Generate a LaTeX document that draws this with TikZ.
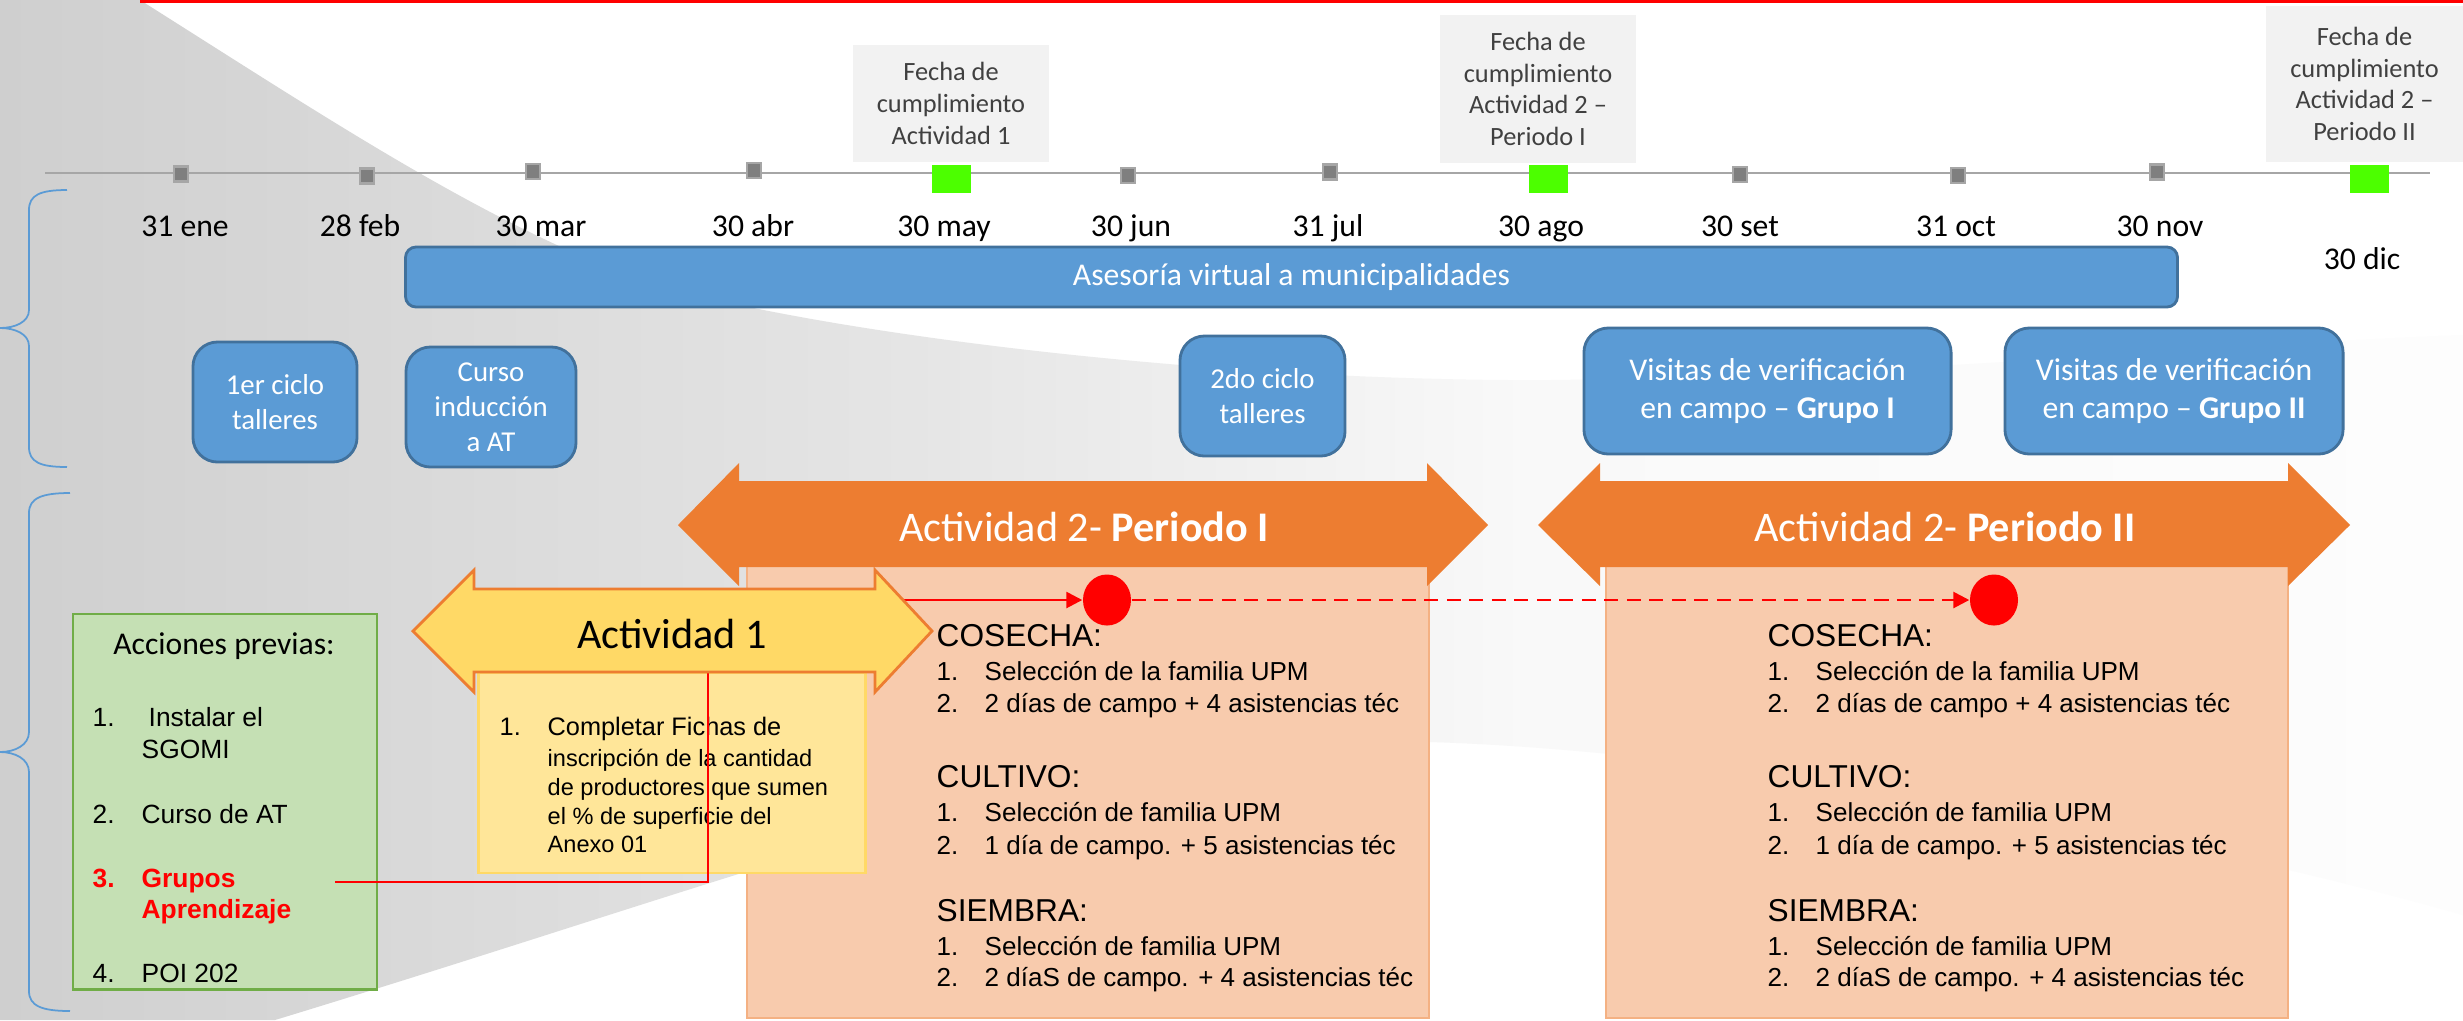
\documentclass[tikz,border=0pt]{standalone}
\usepackage{fontspec}
\setmainfont{Carlito}
\newfontfamily\arialf{Liberation Sans}
\usetikzlibrary{arrows.meta,shapes.geometric}
\definecolor{bluef}{HTML}{5B9BD5}
\definecolor{blueb}{HTML}{41719C}
\definecolor{orangef}{HTML}{ED7D31}
\definecolor{peach}{HTML}{F8CBAD}
\definecolor{peachb}{HTML}{F4B183}
\definecolor{yellowf}{HTML}{FFD966}
\definecolor{yellowbox}{HTML}{FFE699}
\definecolor{greenf}{HTML}{C5E0B4}
\definecolor{greenb}{HTML}{70AD47}
\definecolor{fechabg}{HTML}{F2F2F2}
\definecolor{fechatxt}{HTML}{404040}
\definecolor{brightgreen}{HTML}{4CFF00}
\definecolor{markf}{HTML}{7F7F7F}
\definecolor{markb}{HTML}{A6A6A6}
\definecolor{pureRed}{HTML}{FF0000}
\definecolor{sw0}{HTML}{CFCFCF}
\definecolor{sw1}{HTML}{D8D8D8}
\definecolor{sw2}{HTML}{E5E5E5}
\definecolor{sw3}{HTML}{EFEFEF}
\definecolor{sw4}{HTML}{F9F9F9}
\definecolor{sw5}{HTML}{FDFDFD}
\pgfdeclarehorizontalshading{swoosh}{100bp}{color(0bp)=(sw0); color(25bp)=(sw0); color(32.5bp)=(sw1); color(43.5bp)=(sw2); color(50bp)=(sw3); color(56bp)=(sw4); color(75bp)=(sw5); color(100bp)=(sw5)}

\newcommand{\actpanel}[3]{%
  \node[phead] (#3a) at (#1,646) {COSECHA:};
  \node[pitem] (#3b) at (#1,680) {1.};
  \node[pitem] (#3c) at (#2,680) {Selección de la familia UPM};
  \node[pitem] (#3d) at (#1,712) {2.};
  \node[pitem] (#3e) at (#2,712) {2 días de campo + 4 asistencias téc};
  \node[phead] (#3f) at (#1,787) {CULTIVO:};
  \node[pitem] (#3g) at (#1,821) {1.};
  \node[pitem] (#3h) at (#2,821) {Selección de familia UPM};
  \node[pitem] (#3i) at (#1,854) {2.};
  \node[pitem] (#3j) at (#2,854) {1 día de campo. + 5 asistencias téc};
  \node[phead] (#3k) at (#1,921) {SIEMBRA:};
  \node[pitem] (#3l) at (#1,955) {1.};
  \node[pitem] (#3m) at (#2,955) {Selección de familia UPM};
  \node[pitem] (#3n) at (#1,986) {2.};
  \node[pitem] (#3o) at (#2,986) {2 díaS de campo. + 4 asistencias téc};
}

\begin{document}
\begin{tikzpicture}[x=0.01cm,y=-0.01cm,
  datelbl/.style={font=\fontsize{9}{11}\selectfont, anchor=base, inner sep=0pt},
  fechabox/.style={fill=fechabg, text=fechatxt, align=center, inner sep=0pt, font=\fontsize{7.5}{9}\selectfont},
  marker/.style={fill=markf, draw=markb, line width=0.6pt, minimum width=0.14cm, minimum height=0.15cm, inner sep=0pt},
  greensq/.style={fill=brightgreen, minimum width=0.39cm, minimum height=0.28cm, inner sep=0pt},
  bluebox/.style={draw=blueb, fill=bluef, line width=0.8pt, rounded corners=7pt, text=white, align=center, inner sep=0pt, font=\fontsize{8.2}{10}\selectfont},
  visitbox/.style={bluebox, font=\fontsize{9}{10.8}\selectfont},
  bracestyle/.style={draw=bluef, line width=0.5pt},
  phead/.style={font=\arialf\fontsize{9}{11}\selectfont, anchor=base west, inner sep=0pt},
  pitem/.style={font=\arialf\fontsize{7.4}{9}\selectfont, anchor=base west, inner sep=0pt},
  gitem/.style={font=\arialf\fontsize{7.5}{9}\selectfont, anchor=base west, inner sep=0pt},
  fitem/.style={font=\arialf\fontsize{6.7}{8}\selectfont, anchor=base west, inner sep=0pt},
  redconn/.style={draw=pureRed, line width=0.75pt},
  reddot/.style={ellipse, fill=pureRed, minimum width=0.48cm, minimum height=0.51cm, inner sep=0pt},
  panel/.style={fill=peach, draw=peachb, line width=0.6pt, inner sep=0pt, minimum width=6.82cm, minimum height=4.52cm},
  orangearrow/.style={fill=orangef},
  arrowtxt/.style={text=white, font=\fontsize{12}{14}\selectfont, anchor=base, inner sep=0pt}
]
\useasboundingbox (0,0) rectangle (2463,1020);
\fill[white] (0,0) rectangle (2463,1020);

% background swoosh
\shade[shading=swoosh]
  (0,0) -- (140,0) .. controls (330,120) and (480,220) .. (640,280)
  .. controls (800,330) and (1200,382) .. (1550,380)
  .. controls (1900,376) and (2200,345) .. (2463,335)
  -- (2463,915) .. controls (2200,840) and (1750,752) .. (1430,742)
  .. controls (1100,735) and (800,860) .. (275,1020)
  -- (0,1020) -- cycle;

% top red line
\fill[pureRed] (140,0) rectangle (2463,3);

% braces
\draw[bracestyle] (67,190) .. controls (40,190) and (29,195) .. (29,210) -- (29,310)
  .. controls (29,322) and (15,328) .. (0,328) .. controls (15,328) and (29,334) .. (29,346)
  -- (29,447) .. controls (29,462) and (40,467) .. (67,467);
\draw[bracestyle] (70,493) .. controls (42,493) and (29,498) .. (29,513) -- (29,732)
  .. controls (29,745) and (15,752) .. (0,752) .. controls (15,752) and (29,759) .. (29,772)
  -- (29,991) .. controls (29,1006) and (42,1011) .. (70,1011);

% fecha boxes
\node[fechabox, minimum width=1.96cm, minimum height=1.17cm] (f1) at (951,103.5) {Fecha de\\cumplimiento\\Actividad 1};
\node[fechabox, minimum width=1.96cm, minimum height=1.48cm] (f2) at (1538,89) {Fecha de\\cumplimiento\\Actividad 2 –\\Periodo I};
\node[fechabox, minimum width=1.97cm, minimum height=1.56cm] (f3) at (2364.5,84) {Fecha de\\cumplimiento\\Actividad 2 –\\Periodo II};

% timeline
\coordinate (tlA) at (45,173);
\coordinate (tlB) at (2430,173);
\draw[draw=markb, line width=0.6pt] (tlA) -- (tlB);
\node[marker] (m1) at (181,174) {};
\node[marker] (m2) at (367,176) {};
\node[marker] (m3) at (533,171.5) {};
\node[marker] (m4) at (754,170.5) {};
\node[greensq] (g1) at (951.5,179) {};
\node[marker] (m5) at (1128,175.5) {};
\node[marker] (m6) at (1330,172) {};
\node[greensq] (g2) at (1548,179) {};
\node[marker] (m7) at (1740,174.5) {};
\node[marker] (m8) at (1958,175.5) {};
\node[marker] (m9) at (2157,172) {};
\node[greensq] (g3) at (2369,179) {};

% date labels
\node[datelbl] (d1) at (185,236) {31 ene};
\node[datelbl] (d2) at (360,236) {28 feb};
\node[datelbl] (d3) at (541,236) {30 mar};
\node[datelbl] (d4) at (753,236) {30 abr};
\node[datelbl] (d5) at (944,236) {30 may};
\node[datelbl] (d6) at (1131,236) {30 jun};
\node[datelbl] (d7) at (1328,236) {31 jul};
\node[datelbl] (d8) at (1541,236) {30 ago};
\node[datelbl] (d9) at (1740,236) {30 set};
\node[datelbl] (d10) at (1956,236) {31 oct};
\node[datelbl] (d11) at (2160,236) {30 nov};
\node[datelbl] (d12) at (2362,269) {30 dic};

% asesoria bar
\node[bluebox, rounded corners=3pt, minimum width=17.71cm, minimum height=0.60cm, font=\fontsize{9}{11}\selectfont] (ases) at (1291.5,277) {Asesoría virtual a municipalidades};

% blue boxes
\node[bluebox, minimum width=1.64cm, minimum height=1.20cm] (b1) at (275,402) {1er ciclo\\talleres};
\node[bluebox, minimum width=1.70cm, minimum height=1.20cm] (b2) at (491,407) {Curso\\inducción\\a AT};
\node[bluebox, minimum width=1.65cm, minimum height=1.20cm] (b3) at (1262.5,396) {2do ciclo\\talleres};
\node[visitbox, minimum width=3.67cm, minimum height=1.26cm] (b4) at (1767.5,391) {Visitas de verificación\\en campo – \textbf{Grupo I}};
\node[visitbox, minimum width=3.38cm, minimum height=1.26cm] (b5) at (2174,391) {Visitas de verificación\\en campo – \textbf{Grupo II}};

% peach panels
\node[panel] (pan1) at (1088,792) {};
\node[panel] (pan2) at (1947,792) {};

% orange arrows
\fill[orangearrow] (678,525) -- (739,463) -- (739,481) -- (1427,481) -- (1427,463) -- (1488,525)
  -- (1427,586) -- (1427,567) -- (739,567) -- (739,586) -- cycle;
\fill[orangearrow] (1538,525) -- (1600,463) -- (1600,481) -- (2288,481) -- (2288,463) -- (2350,525)
  -- (2288,586) -- (2288,567) -- (1600,567) -- (1600,586) -- cycle;
\node[arrowtxt] (a2t1) at (1084,541) {Actividad 2- \textbf{Periodo I}};
\node[arrowtxt] (a2t2) at (1945,541) {Actividad 2- \textbf{Periodo II}};

% green box
\node[fill=greenf, draw=greenb, line width=0.8pt, minimum width=3.04cm, minimum height=3.75cm, inner sep=0pt] (prev) at (225,801.5) {};
\node[anchor=base, inner sep=0pt, font=\fontsize{9}{11}\selectfont] (prevt) at (224,654) {Acciones previas:};
\node[gitem] (gi1) at (92,726) {1.};
\node[gitem] (gi1t) at (148,726) {Instalar el};
\node[gitem] (gi1u) at (141,758) {SGOMI};
\node[gitem] (gi2) at (92,823) {2.};
\node[gitem] (gi2t) at (141,823) {Curso de AT};
\node[gitem, text=pureRed, font=\arialf\bfseries\fontsize{7.5}{9}\selectfont] (gi3) at (92,887) {3.};
\node[gitem, text=pureRed, font=\arialf\bfseries\fontsize{7.5}{9}\selectfont] (gi3t) at (141,887) {Grupos};
\node[gitem, text=pureRed, font=\arialf\bfseries\fontsize{7.5}{9}\selectfont] (gi3u) at (141,918) {Aprendizaje};
\node[gitem] (gi4) at (92,982) {4.};
\node[gitem] (gi4t) at (141,982) {POI 202};

% yellow box
\node[fill=yellowbox, draw=yellowf, line width=0.8pt, minimum width=3.86cm, minimum height=2.0cm, inner sep=0pt] (fichas) at (672,773) {};
\node[fitem, font=\arialf\fontsize{7.2}{9}\selectfont] (fi0) at (499,735) {1.};
\node[fitem, font=\arialf\fontsize{7.2}{9}\selectfont] (fi1) at (547,735) {Completar Fichas de};
\node[fitem] (fi2) at (547,766) {inscripción de la cantidad};
\node[fitem] (fi3) at (547,795) {de productores que sumen};
\node[fitem] (fi4) at (547,824) {el \% de superficie del};
\node[fitem] (fi5) at (547,852) {Anexo 01};

% red dots
\node[reddot] (c1) at (1107,600) {};
\node[reddot] (c2) at (1994,600) {};

% red connector (partly hidden by Actividad 1 arrow)
\coordinate (c0) at (335,882);
\coordinate (bend) at (708,600);
\draw[redconn, -{Triangle[length=4.5pt,width=4.5pt]}] (c0) -| (bend) -- (c1.west);

% yellow arrow Actividad 1
\draw[fill=yellowf, draw=orangef, line width=0.8pt] (413,631) -- (474,570) -- (474,589) -- (875,589) -- (875,570) -- (932,631)
  -- (875,692) -- (875,672) -- (474,672) -- (474,692) -- cycle;
\node[anchor=base, inner sep=0pt, font=\fontsize{12}{14}\selectfont] (a1t) at (672,648) {Actividad 1};

% dashed red connector
\draw[redconn, dash pattern=on 4pt off 2.4pt, -{Triangle[length=4.5pt,width=4.5pt]}] (c1.east) -- (c2.west);

% panel texts
\actpanel{936}{984}{pa}
\actpanel{1767}{1815}{pb}

\end{tikzpicture}
\end{document}
